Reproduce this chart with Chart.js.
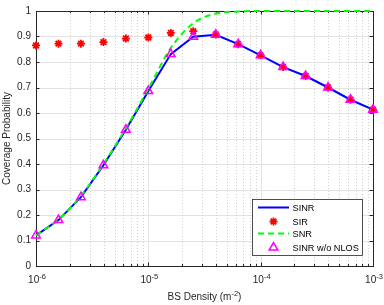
<!DOCTYPE html>
<html lang="en">
<head>
    <meta charset="UTF-8">
    <title>Coverage Probability vs BS Density</title>
    <script src="https://cdn.jsdelivr.net/npm/chart.js"></script>
    <style>
        body, html {
            margin: 0;
            padding: 0;
            background: #fff;
        }
        #wrap {
            width: 384px;
            height: 305px;
        }
    </style>
</head>
<body>
    <div id="wrap"><canvas id="chart" width="384" height="305"></canvas></div>

    <script>
        // BS density (m^-2), 5 points per decade
        var density = [1e-6, 1.585e-6, 2.512e-6, 3.981e-6, 6.31e-6,
                       1e-5, 1.585e-5, 2.512e-5, 3.981e-5, 6.31e-5,
                       1e-4, 1.585e-4, 2.512e-4, 3.981e-4, 6.31e-4, 1e-3];

        var sinr = [0.12, 0.18, 0.27, 0.395, 0.534, 0.686, 0.831, 0.899, 0.907, 0.87,
                    0.826, 0.78, 0.745, 0.70, 0.652, 0.613];
        var sir = [0.865, 0.872, 0.872, 0.878, 0.892, 0.896, 0.914, 0.921, 0.908, 0.87,
                   0.826, 0.78, 0.745, 0.70, 0.652, 0.613];
        var snr = [0.12, 0.183, 0.275, 0.40, 0.54, 0.695, 0.855, 0.952, 0.99, 0.998,
                   1, 1, 1, 1, 1, 1];
        var sinrNoNlos = [0.12, 0.18, 0.27, 0.395, 0.534, 0.686, 0.831, 0.899, 0.907, 0.87,
                          0.826, 0.78, 0.745, 0.70, 0.652, 0.613];

        // x ticks: base and exponent, drawn as 10^exp
        var xTicks = [1e-6, 1e-5, 1e-4, 1e-3];
        var xTickExp = ['-6', '-5', '-4', '-3'];

        var FONT = "'Liberation Sans', Arial, sans-serif";
        var AXIS_COLOR = '#262626';

        function pts(ys) {
            return ys.map(function (y, i) { return { x: density[i], y: y }; });
        }

        // text pieces [text, isSup], centred at cx
        function drawSupText(ctx, pieces, cx, baseline, size, supSize) {
            var w = 0;
            pieces.forEach(function (p) {
                ctx.font = (p[1] ? supSize : size) + 'px ' + FONT;
                w += ctx.measureText(p[0]).width;
            });
            var x = cx - w / 2;
            ctx.textAlign = 'left';
            ctx.textBaseline = 'alphabetic';
            pieces.forEach(function (p) {
                ctx.font = (p[1] ? supSize : size) + 'px ' + FONT;
                ctx.fillText(p[0], x, p[1] ? baseline - 4.5 : baseline);
                x += ctx.measureText(p[0]).width;
            });
        }

        // grid, box and inward ticks like a matlab axes
        var axesPlugin = {
            id: 'axesBox',
            beforeDatasetsDraw: function (chart) {
                var ctx = chart.ctx;
                var a = chart.chartArea;
                var xs = chart.scales.x;
                var ys = chart.scales.y;
                ctx.save();
                ctx.lineWidth = 1;

                // y grid
                ctx.strokeStyle = '#e3e3e3';
                for (var v = 0; v <= 10; v++) {
                    var py = Math.round(ys.getPixelForValue(v / 10)) + 0.5;
                    ctx.beginPath();
                    ctx.moveTo(a.left, py);
                    ctx.lineTo(a.right, py);
                    ctx.stroke();
                }
                // x grid, minor dotted / major solid
                for (var e = -6; e < -3; e++) {
                    for (var m = 1; m <= 9; m++) {
                        var px = Math.round(xs.getPixelForValue(m * Math.pow(10, e))) + 0.5;
                        ctx.beginPath();
                        if (m === 1) {
                            ctx.setLineDash([]);
                            ctx.strokeStyle = '#e3e3e3';
                        } else {
                            ctx.setLineDash([1, 2]);
                            ctx.strokeStyle = '#d0d0d0';
                        }
                        ctx.moveTo(px, a.top);
                        ctx.lineTo(px, a.bottom);
                        ctx.stroke();
                    }
                }
                ctx.setLineDash([]);

                // ticks
                ctx.strokeStyle = AXIS_COLOR;
                for (var v2 = 0; v2 <= 10; v2++) {
                    var ty = Math.round(ys.getPixelForValue(v2 / 10)) + 0.5;
                    ctx.beginPath();
                    ctx.moveTo(a.left, ty); ctx.lineTo(a.left + 3.5, ty);
                    ctx.moveTo(a.right, ty); ctx.lineTo(a.right - 3.5, ty);
                    ctx.stroke();
                }
                for (var e2 = -6; e2 <= -3; e2++) {
                    for (var m2 = 1; m2 <= 9; m2++) {
                        if (e2 === -3 && m2 > 1) break;
                        var tx = Math.round(xs.getPixelForValue(m2 * Math.pow(10, e2))) + 0.5;
                        var len = m2 === 1 ? 3.5 : 2;
                        ctx.beginPath();
                        ctx.moveTo(tx, a.bottom); ctx.lineTo(tx, a.bottom - len);
                        ctx.moveTo(tx, a.top); ctx.lineTo(tx, a.top + len);
                        ctx.stroke();
                    }
                }

                // box
                ctx.strokeRect(Math.round(a.left) + 0.5, Math.round(a.top) + 0.5,
                    Math.round(a.right - a.left), Math.round(a.bottom - a.top));

                // x tick labels and x title with superscripts
                ctx.fillStyle = AXIS_COLOR;
                for (var k = 0; k < xTicks.length; k++) {
                    var lx = xs.getPixelForValue(xTicks[k]);
                    drawSupText(ctx, [['10', false], [xTickExp[k], true]], lx + 1, 283, 10, 7.5);
                }
                drawSupText(ctx, [['BS Density (m', false], ['-2', true], [')', false]],
                    (a.left + a.right) / 2, 300, 10, 7.5);
                ctx.restore();
            },
            afterDraw: function (chart) {
                // legend box inside the axes, lower right
                var ctx = chart.ctx;
                var bx = 252.5, by = 199.5, bw = 110, bh = 56;
                ctx.save();
                ctx.fillStyle = '#fff';
                ctx.fillRect(bx, by, bw, bh);
                ctx.strokeStyle = AXIS_COLOR;
                ctx.lineWidth = 0.8;
                ctx.strokeRect(bx, by, bw, bh);

                var rows = [207.5, 221.5, 233.5, 247.5];
                var ds = chart.data.datasets;
                for (var i = 0; i < ds.length; i++) {
                    var d = ds[i];
                    var ry = rows[i];
                    if (d.showLine !== false) {
                        ctx.beginPath();
                        ctx.setLineDash(d.borderDash || []);
                        ctx.strokeStyle = d.borderColor;
                        ctx.lineWidth = d.borderWidth;
                        ctx.moveTo(258, ry);
                        ctx.lineTo(289, ry);
                        ctx.stroke();
                        ctx.setLineDash([]);
                    }
                    if (d.pointRadius > 0) {
                        ctx.strokeStyle = d.pointBorderColor;
                        ctx.fillStyle = d.pointBackgroundColor;
                        ctx.lineWidth = d.pointBorderWidth;
                        Chart.helpers.drawPoint(ctx, {
                            pointStyle: d.pointStyle,
                            radius: d.pointRadius,
                            borderWidth: d.pointBorderWidth
                        }, 273.5, ry);
                    }
                    ctx.font = '9.2px ' + FONT;
                    ctx.textBaseline = 'middle';
                    ctx.textAlign = 'left';
                    ctx.fillStyle = '#000';
                    ctx.fillText(d.label, 292.5, ry + 0.5);
                }
                ctx.restore();
            }
        };

        new Chart(document.getElementById('chart'), {
            type: 'line',
            data: {
                datasets: [{
                    label: 'SINR',
                    data: pts(sinr),
                    borderColor: '#0000ff',
                    borderWidth: 2,
                    pointRadius: 0,
                    fill: false,
                    clip: false,
                    order: 4
                }, {
                    label: 'SIR',
                    data: pts(sir),
                    showLine: false,
                    borderColor: '#ff0000',
                    pointStyle: 'star',
                    pointRadius: 4,
                    pointBorderWidth: 1.8,
                    pointBorderColor: '#ff0000',
                    pointBackgroundColor: '#ff0000',
                    clip: false,
                    order: 3
                }, {
                    label: 'SNR',
                    data: pts(snr),
                    borderColor: '#00ff00',
                    borderWidth: 2,
                    borderDash: [6, 4],
                    cubicInterpolationMode: 'monotone',
                    pointRadius: 0,
                    fill: false,
                    clip: false,
                    order: 2
                }, {
                    label: 'SINR w/o NLOS',
                    data: pts(sinrNoNlos),
                    showLine: false,
                    borderColor: '#ff00ff',
                    pointStyle: 'triangle',
                    pointRadius: 5,
                    pointBorderWidth: 1.5,
                    pointBorderColor: '#ff00ff',
                    pointBackgroundColor: 'rgba(0,0,0,0)',
                    clip: false,
                    order: 1
                }]
            },
            options: {
                responsive: false,
                animation: false,
                events: [],
                layout: { padding: { top: 4, right: 11, left: 0, bottom: 0 } },
                plugins: {
                    legend: { display: false },
                    tooltip: { enabled: false }
                },
                scales: {
                    x: {
                        type: 'logarithmic',
                        min: 1e-6,
                        max: 1e-3,
                        afterBuildTicks: function (scale) {
                            scale.ticks = xTicks.map(function (v) { return { value: v }; });
                        },
                        afterFit: function (scale) { scale.height = 39; },
                        grid: { display: false, drawTicks: false },
                        border: { display: false },
                        ticks: { display: false }
                    },
                    y: {
                        min: 0,
                        max: 1,
                        afterFit: function (scale) { scale.width = 36; },
                        grid: { display: false, drawTicks: false },
                        border: { display: false },
                        ticks: {
                            stepSize: 0.1,
                            padding: 5,
                            color: AXIS_COLOR,
                            font: { family: FONT, size: 10 },
                            callback: function (value) {
                                return String(Math.round(value * 10) / 10);
                            }
                        },
                        title: {
                            display: true,
                            text: 'Coverage Probability',
                            color: AXIS_COLOR,
                            font: { family: FONT, size: 10 },
                            padding: { top: 1, bottom: 0 }
                        }
                    }
                }
            },
            plugins: [axesPlugin]
        });
    </script>
</body>
</html>
